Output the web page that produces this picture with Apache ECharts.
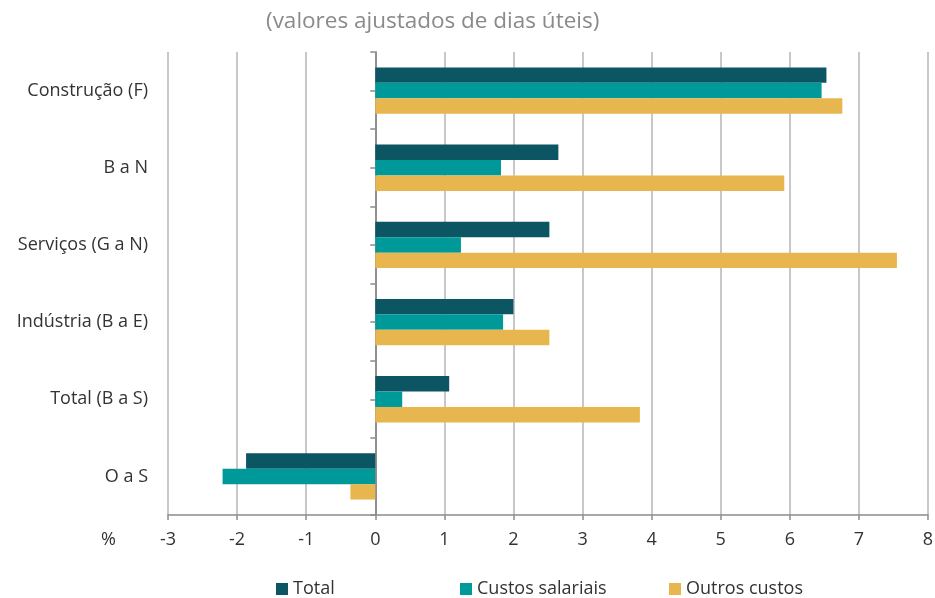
<!DOCTYPE html>
<html>
<head>
<meta charset="utf-8">
<style>
  html, body { margin: 0; padding: 0; background: #fff; }
  #chart { width: 935px; height: 598px; }
</style>
<script src="https://cdn.jsdelivr.net/npm/echarts@6/dist/echarts.min.js"></script>
</head>
<body>
<div id="chart"></div>
<script>
// categorias, de baixo para cima
const categories = ["O a S", "Total (B a S)", "Indústria (B a E)", "Serviços (G a N)", "B a N", "Construção (F)"];
const totalValues = [-1.87, 1.07, 2.0, 2.52, 2.65, 6.53];
const salariaisValues = [-2.21, 0.39, 1.85, 1.24, 1.82, 6.46];
const outrosValues = [-0.36, 3.83, 2.52, 7.55, 5.92, 6.76];
const seriesNames = ["Total", "Custos salariais", "Outros custos"];
const xTicks = { min: -3, max: 8, interval: 1 };

const font = "'Open Sans', 'Noto Sans', sans-serif";
const chart = echarts.init(document.getElementById("chart"));

// uma legenda por série, para reproduzir o espaçamento do original
const legendLeft = [271, 455, 664];
const legends = seriesNames.map((name, i) => ({
  top: 575,
  left: legendLeft[i],
  itemWidth: 12,
  itemHeight: 12,
  icon: "rect",
  data: [name],
  textStyle: { fontSize: 18, color: "#333", fontFamily: font },
}));

chart.setOption({
  backgroundColor: "#fff",
  animation: false,
  textStyle: { fontFamily: font },
  title: {
    text: "(valores ajustados de dias úteis)",
    left: 261,
    top: 5,
    textStyle: { fontSize: 22.5, fontWeight: "normal", color: "#8a8a8a", fontFamily: font },
  },
  legend: legends,
  grid: { left: 168, right: 7, top: 52, bottom: 83, outerBoundsMode: "none", containLabel: false },
  graphic: [
    {
      type: "text",
      left: 101,
      top: 531,
      style: { text: "%", fontSize: 18, fill: "#333", fontFamily: font },
    },
  ],
  xAxis: {
    type: "value",
    min: xTicks.min,
    max: xTicks.max,
    interval: xTicks.interval,
    axisLine: { show: true, lineStyle: { color: "#8c8c8c", width: 1.5 } },
    axisTick: { show: true, length: 5, lineStyle: { color: "#8c8c8c", width: 1.5 } },
    axisLabel: { fontSize: 18, color: "#333", margin: 16 },
    splitLine: { show: true, lineStyle: { color: "#c8c8c8", width: 2 } },
  },
  yAxis: [
    {
      type: "category",
      data: categories,
      axisLine: { show: true, onZero: true, lineStyle: { color: "#8c8c8c", width: 1.5 } },
      axisTick: { show: false },
      axisLabel: { fontSize: 18, color: "#333", margin: 20 },
    },
    {
      // eixo auxiliar só para as marcas (fronteiras e centros das categorias)
      type: "category",
      position: "left",
      data: ["", "", "", "", "", "", "", "", "", "", "", ""],
      axisLine: { show: true, onZero: true, onZeroAxisIndex: 0, lineStyle: { color: "#8c8c8c", width: 1.5 } },
      axisTick: { show: true, length: 5, lineStyle: { color: "#8c8c8c", width: 1.5 } },
      axisLabel: { show: false },
      splitLine: { show: false },
    },
  ],
  series: [
    {
      name: seriesNames[0],
      type: "bar",
      data: totalValues,
      itemStyle: { color: "#0c5563" },
      barGap: "0%",
      barCategoryGap: "40%",
    },
    {
      name: seriesNames[1],
      type: "bar",
      data: salariaisValues,
      itemStyle: { color: "#00999a" },
    },
    {
      name: seriesNames[2],
      type: "bar",
      data: outrosValues,
      itemStyle: { color: "#e8b64e" },
    },
  ],
});
</script>
</body>
</html>
